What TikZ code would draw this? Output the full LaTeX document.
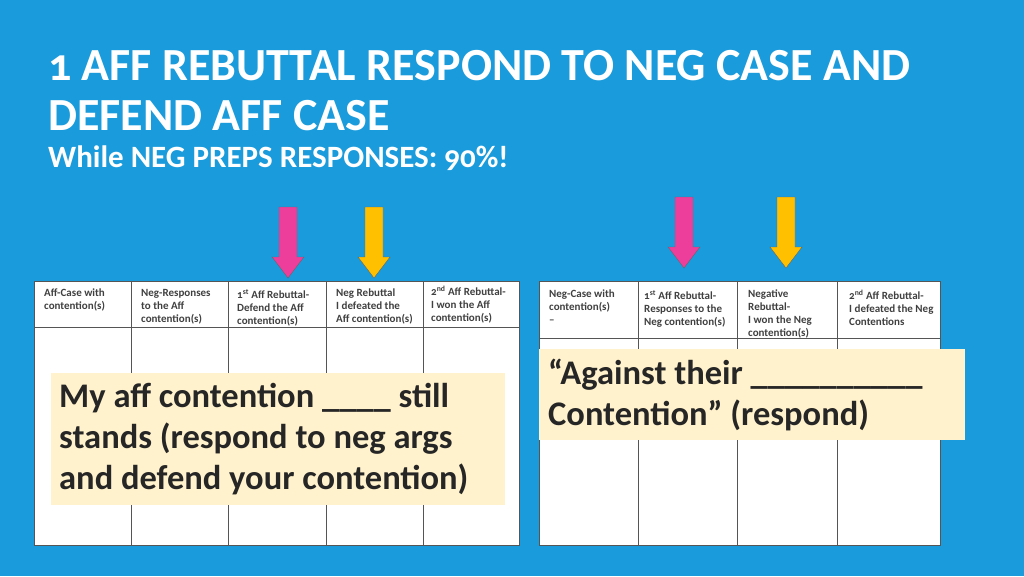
\documentclass[tikz,border=0pt]{standalone}
\usepackage{fontspec}
\setmainfont{Carlito}[Numbers=OldStyle]
\definecolor{bg}{HTML}{1A9BDC}
\definecolor{cream}{HTML}{FFF2CC}
\definecolor{pinkA}{HTML}{EE3E9B}
\definecolor{goldA}{HTML}{FFC000}
\definecolor{grid}{HTML}{555555}
\begin{document}
\begin{tikzpicture}[x=1pt,y=-1pt,
  hdr/.style={anchor=north west,align=left,font=\fontsize{11}{13}\selectfont\bfseries,text=black!75,inner sep=0pt},
  boxtxt/.style={anchor=west,align=left,font=\fontsize{34.5}{41}\selectfont\bfseries,text=black!85,inner sep=0pt},
  arr/.style={draw=black!60,line width=0.4pt}]
\fill[bg] (0,0) rectangle (1024,576);
\useasboundingbox (0,0) rectangle (1024,576);
\node[anchor=north west,align=left,text=white,font=\fontsize{46}{50}\selectfont\bfseries,inner sep=0pt] (title) at (48,50) {1 AFF REBUTTAL RESPOND TO NEG CASE AND\\DEFEND AFF CASE};
\node[anchor=north west,text=white,font=\fontsize{31}{34}\selectfont\bfseries,inner sep=0pt] (sub) at (48,146) {While NEG PREPS RESPONSES: 90\%!};
% left table
\fill[white] (34,281) rectangle (519,545);
\draw[grid,line width=0.5pt] (34,281) rectangle (519,545);
\foreach \x in {131,228,326,423} \draw[grid,line width=0.5pt] (\x,281) -- (\x,545);
\draw[grid,line width=0.5pt] (34,327) -- (519,327);
\node[hdr] (h1) at (44,289) {Aff-Case with\\contention(s)};
\node[hdr] (h2) at (141,289) {Neg-Responses\\to the Aff\\contention(s)};
\node[hdr] (h3) at (237,289) {1\textsuperscript{st} Aff Rebuttal-\\Defend the Aff\\contention(s)};
\node[hdr] (h4) at (336,289) {Neg Rebuttal\\I defeated the\\Aff contention(s)};
\node[hdr] (h5) at (431,286) {2\textsuperscript{nd} Aff Rebuttal-\\I won the Aff\\contention(s)};
% right table
\fill[white] (539,281) rectangle (940,545);
\draw[grid,line width=0.5pt] (539,281) rectangle (940,545);
\foreach \x in {638,737,837} \draw[grid,line width=0.5pt] (\x,281) -- (\x,545);
\draw[grid,line width=0.5pt] (539,338) -- (940,338);
\node[hdr] (r1) at (549,290) {Neg-Case with\\contention(s)\\--};
\node[hdr] (r2) at (644,290) {1\textsuperscript{st} Aff Rebuttal-\\Responses to the\\Neg contention(s)};
\node[hdr] (r3) at (748,290) {Negative\\Rebuttal-\\I won the Neg\\contention(s)};
\node[hdr] (r4) at (849,290) {2\textsuperscript{nd} Aff Rebuttal-\\I defeated the Neg\\Contentions};
% boxes
\fill[cream] (51,373) rectangle (505,505);
\node[boxtxt] (lb) at (59,439) {My aff contention \_\_\_\_ still\\stands (respond to neg args\\and defend your contention)};
\fill[cream] (539,349) rectangle (965,440);
\node[boxtxt] (rb) at (548,395) {“Against their \_\_\_\_\_\_\_\_\_\_\\Contention” (respond)};
% arrows
\foreach \cx/\ty/\col/\nm in {288/207/pinkA/a1,374/207/goldA/a2,684/197/pinkA/a3,786/197/goldA/a4}{
  \draw[arr,fill=\col] (\cx-9,\ty) -- (\cx+9,\ty) -- (\cx+9,\ty+50) -- (\cx+16,\ty+50) -- (\cx,\ty+71) -- (\cx-16,\ty+50) -- (\cx-9,\ty+50) -- cycle;
  \coordinate (\nm) at (\cx,\ty+71);
}
\end{tikzpicture}
\end{document}
